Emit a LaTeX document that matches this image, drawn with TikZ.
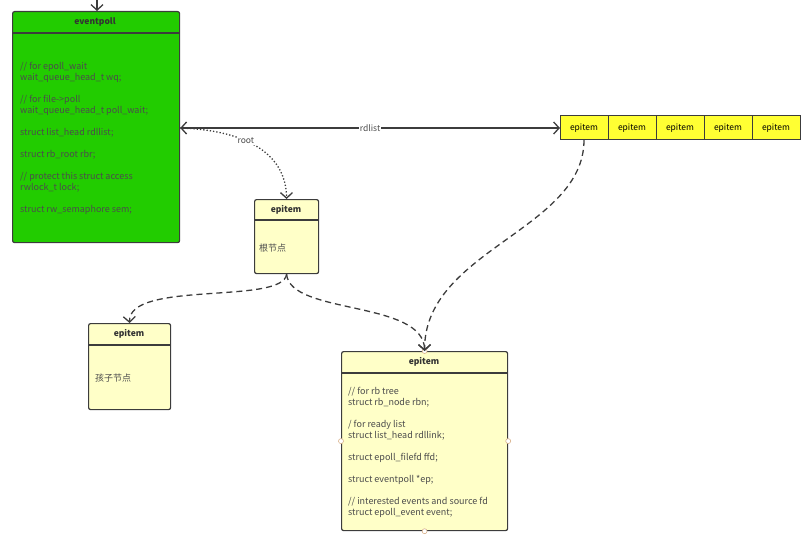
\documentclass[tikz,border=0pt]{standalone}
\usepackage{fontspec}
\setmainfont{Noto Sans CJK SC}
\usetikzlibrary{arrows.meta,positioning}
\usetikzlibrary{calc}

\definecolor{boxgreen}{RGB}{34,204,0}
\definecolor{boxyellow}{RGB}{255,255,200}
\definecolor{listyellow}{RGB}{255,255,51}
\definecolor{edgegray}{RGB}{60,60,60}

\begin{document}
\begin{tikzpicture}[
    x=1pt, y=-1pt,
    box/.style={draw=edgegray, line width=1.2pt, rounded corners=2pt, anchor=north west},
    title/.style={font=\fontsize{8.5}{10}\selectfont\bfseries, text=black!80},
    body/.style={anchor=north west, align=left, inner sep=0pt,
        font=\fontsize{9}{11}\selectfont, text=black!70},
    cell/.style={draw=edgegray, line width=1pt, fill=listyellow, minimum width=48,
        minimum height=24, inner sep=0pt, outer sep=0pt, font=\fontsize{8.5}{10}\selectfont},
    link/.style={draw=edgegray, line width=1.3pt, {Straight Barb[length=5.5pt,width=12pt]}-{Straight Barb[length=5.5pt,width=12pt]}},
    point/.style={draw=edgegray, line width=1.3pt, -{Straight Barb[length=5.5pt,width=12pt]}},
    port/.style={circle, draw=brown!60, fill=white, inner sep=0pt, minimum size=5pt, line width=0.6pt},
]
\useasboundingbox (0,0) rectangle (807,543);

% eventpoll
\node[box, fill=boxgreen, minimum width=167, minimum height=231] (eventpoll) at (12,11) {};
\draw[edgegray, line width=1.2pt] (12,33) -- (179,33);
\node[title] (eptitle) at (95,22) {eventpoll};
\node[body] (epbody) at (20,62) {// for epoll\_wait\\wait\_queue\_head\_t wq;\\ \\// for file->poll\\wait\_queue\_head\_t poll\_wait;\\ \\struct list\_head rdllist;\\ \\struct rb\_root rbr;\\ \\// protect this struct access\\rwlock\_t lock;\\ \\struct rw\_semaphore sem;};
\coordinate (feed) at (97,-12);
\draw[point] (feed) -- (eventpoll.north -| feed);

% root epitem
\node[box, fill=boxyellow, minimum width=64, minimum height=74] (rootitem) at (254,199) {};
\draw[edgegray, line width=1.2pt] (254,220) -- (318,220);
\node[title] (roottitle) at (286,209.5) {epitem};
\node[body] (rootbody) at (259,244) {根节点};

% child epitem
\node[box, fill=boxyellow, minimum width=82, minimum height=86] (childitem) at (88,323) {};
\draw[edgegray, line width=1.2pt] (88,345) -- (170,345);
\node[title] (childtitle) at (129,334) {epitem};
\node[body] (childbody) at (95,374) {孩子节点};

% big epitem
\node[box, fill=boxyellow, minimum width=166, minimum height=179] (item) at (341,351) {};
\draw[edgegray, line width=1.2pt] (341,373) -- (507,373);
\node[title] (itemtitle) at (424,362) {epitem};
\node[body] (itembody) at (348,387) {// for rb tree\\struct rb\_node rbn;\\ \\/ for ready list\\struct list\_head rdllink;\\ \\struct epoll\_filefd ffd;\\ \\struct eventpoll *ep;\\ \\// interested events and source fd\\struct epoll\_event event;};
\foreach \side in {north,west,east,south}
    \node[port] at (item.\side) {};

% ready list
\node[cell, anchor=west] (e1) at (560,128) {epitem};
\foreach \i [count=\j from 1] in {2,...,5}
    \node[cell, right=0pt of e\j] (e\i) {epitem};

% connectors
\draw[link] (eventpoll.east |- e1) -- node[fill=white, inner sep=1pt, font=\fontsize{8.5}{10}\selectfont, text=black!70] {rdlist} (e1.west);
\draw[point, dotted] (eventpoll.east |- e1) .. controls (240,130) and (286,150) .. node[pos=0.42, fill=white, inner sep=1pt, font=\fontsize{8.5}{10}\selectfont, text=black!70] {root} (rootitem.north);
\draw[point, dash pattern=on 6pt off 4pt] (rootitem.south) .. controls (283,305) and (128,280) .. (childitem.north);
\draw[point, dash pattern=on 6pt off 4pt] (rootitem.south) .. controls (290,315) and (424,300) .. (item.north);
\draw[point, dash pattern=on 6pt off 4pt] (e1.south) .. controls (584,230) and (424,250) .. (item.north);
\end{tikzpicture}
\end{document}
